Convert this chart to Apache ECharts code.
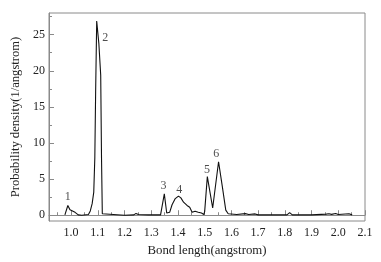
<!DOCTYPE html>
<html>
<head>
<meta charset="utf-8">
<script src="https://cdn.jsdelivr.net/npm/echarts@6/dist/echarts.min.js"></script>
<style>
  html, body { margin: 0; padding: 0; background: #fff; }
  #chart { width: 381px; height: 262px; }
</style>
</head>
<body>
<div id="chart"></div>
<script>
// bond length (angstrom) / probability density (1/angstrom)
const bondLength = [
  0.977, 0.988, 0.996, 1.002, 1.015, 1.027, 1.040, 1.065, 1.072, 1.079,
  1.085, 1.089, 1.092, 1.096, 1.104, 1.111, 1.114, 1.117, 1.122, 1.200,
  1.235, 1.243, 1.252, 1.290, 1.335, 1.349, 1.358, 1.362, 1.369, 1.378,
  1.390, 1.402, 1.411, 1.421, 1.434, 1.444, 1.453, 1.464, 1.476, 1.488,
  1.497, 1.500, 1.510, 1.530, 1.552, 1.566, 1.579, 1.588, 1.620, 1.652,
  1.665, 1.689, 1.700, 1.750, 1.808, 1.818, 1.828, 1.900, 1.955, 1.965,
  1.975, 1.990, 2.000, 2.040, 2.052
];
const density = [
  0.05, 1.35, 0.75, 0.8, 0.4, 0.05, 0, 0.1, 0.6, 1.6,
  3.2, 8, 17, 26.9, 23.8, 19.4, 8, 0.2, 0, 0,
  0.05, 0.25, 0.1, 0.05, 0.05, 2.95, 0.3, 0.1, 0.4, 1.45,
  2.3, 2.65, 2.4, 1.8, 1.35, 1.1, 0.4, 0.55, 0.4, 0.3,
  0.1, 0.5, 5.35, 1.0, 7.4, 4.0, 0.7, 0.2, 0.1, 0.22,
  0.1, 0.18, 0.05, 0.05, 0.05, 0.35, 0.05, 0.05, 0.15, 0.2,
  0.12, 0.25, 0.1, 0.2, 0.05
];

// peak numbers and where their labels sit
const peakNames = ['1', '2', '3', '4', '5', '6'];
const peakLabelX = [0.988, 1.128, 1.346, 1.405, 1.509, 1.543];
const peakLabelY = [2.6, 24.5, 4.0, 3.5, 6.3, 8.55];

const xTicks = [1.0, 1.1, 1.2, 1.3, 1.4, 1.5, 1.6, 1.7, 1.8, 1.9, 2.0, 2.1];
const xMinorTicks = [0.95, 1.05, 1.15, 1.25, 1.35, 1.45, 1.55, 1.65, 1.75, 1.85, 1.95, 2.05];
const yTicks = [0, 5, 10, 15, 20, 25];
const yMinorTicks = [2.5, 7.5, 12.5, 17.5, 22.5, 27.5];

const font = 'Liberation Serif';
const axisColor = '#8a8a8a';
const textColor = '#222';

const chart = echarts.init(document.getElementById('chart'));

const xBase = {
  type: 'value',
  min: 0.9175,
  max: 2.1,
  splitLine: { show: false },
};
const yBase = {
  type: 'value',
  min: -0.8,
  max: 28,
  splitLine: { show: false },
};

chart.setOption({
  animation: false,
  grid: {
    left: 49, top: 13, right: 16, bottom: 41,
    show: true, borderColor: axisColor, borderWidth: 1,
  },
  xAxis: [
    Object.assign({}, xBase, {
      name: 'Bond length(angstrom)',
      nameLocation: 'middle',
      nameGap: 23,
      nameTextStyle: { fontFamily: font, fontSize: 12.8, color: textColor },
      axisLine: { show: true, lineStyle: { color: axisColor } },
      axisTick: { inside: true, length: 5, customValues: xTicks, lineStyle: { color: axisColor } },
      axisLabel: {
        customValues: xTicks, margin: 6,
        fontFamily: font, fontSize: 12, color: textColor,
        formatter: v => v.toFixed(1),
      },
    }),
    Object.assign({}, xBase, {
      position: 'bottom',
      axisLine: { show: false },
      axisTick: { inside: true, length: 3, customValues: xMinorTicks, lineStyle: { color: axisColor } },
      axisLabel: { show: false },
    }),
  ],
  yAxis: [
    Object.assign({}, yBase, {
      name: 'Probability density(1/angstrom)',
      nameLocation: 'middle',
      nameGap: 26,
      nameTextStyle: { fontFamily: font, fontSize: 12.6, color: textColor },
      axisLine: { show: true, lineStyle: { color: axisColor } },
      axisTick: { inside: true, length: 5, customValues: yTicks, lineStyle: { color: axisColor } },
      axisLabel: {
        customValues: yTicks, margin: 4,
        fontFamily: font, fontSize: 12, color: textColor,
      },
    }),
    Object.assign({}, yBase, {
      position: 'left',
      axisLine: { show: false },
      axisTick: { inside: true, length: 3, customValues: yMinorTicks, lineStyle: { color: axisColor } },
      axisLabel: { show: false },
    }),
  ],
  series: [
    {
      type: 'line',
      data: bondLength.map((x, i) => [x, density[i]]),
      showSymbol: false,
      lineStyle: { color: '#111', width: 1.1 },
    },
    {
      type: 'scatter',
      symbolSize: 0,
      data: peakNames.map((n, i) => ({ name: n, value: [peakLabelX[i], peakLabelY[i]] })),
      label: {
        show: true,
        position: 'inside',
        formatter: p => p.name,
        fontFamily: font, fontSize: 12, color: textColor,
      },
    },
  ],
});
</script>
</body>
</html>
